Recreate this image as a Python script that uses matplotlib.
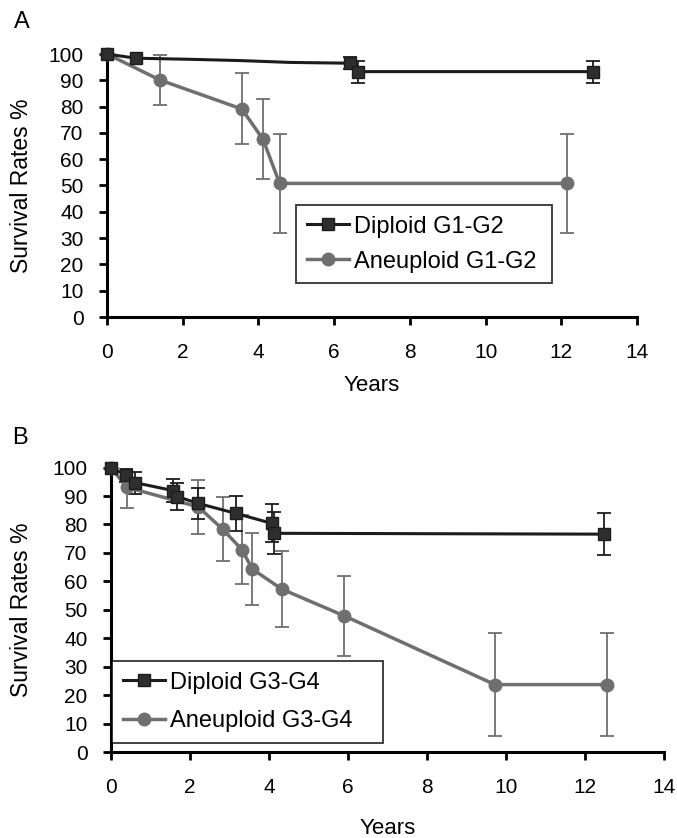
import numpy as np
import matplotlib
matplotlib.use('Agg')
import matplotlib.pyplot as plt
from matplotlib.lines import Line2D

plt.rcParams['font.family'] = ['Liberation Sans', 'DejaVu Sans']

# ---- panel A data ----
dipA_x = [0, 0.76, 2.15, 3.52, 4.84, 6.41, 6.63, 12.84]
dipA_y = [100, 98.4, 98.0, 97.5, 96.8, 96.5, 93.3, 93.3]
dipA_mark = [0, 1, 5, 6, 7]
dipA_err = [0, 0, 0, 0, 0, 2.3, 4.2, 4.2]

aneA_x = [0, 1.40, 3.56, 4.12, 4.56, 12.14]
aneA_y = [100, 90.1, 79.1, 67.6, 50.8, 50.8]
aneA_err = [0, 9.4, 13.5, 15.2, 18.9, 18.9]

# ---- panel B data ----
dipB_x = [0, 0.38, 0.61, 1.58, 1.68, 2.21, 3.16, 4.07, 4.13, 12.48]
dipB_y = [100, 97.4, 94.7, 91.9, 89.8, 87.4, 83.9, 80.4, 76.9, 76.6]
dipB_err = [0, 2.5, 3.9, 4.1, 4.7, 5.4, 6.2, 6.7, 7.4, 7.4]

aneB_x = [0, 0.40, 2.21, 2.83, 3.31, 3.58, 4.32, 5.90, 9.72, 12.56]
aneB_y = [100, 93.1, 86.2, 78.3, 71.2, 64.3, 57.3, 47.9, 23.7, 23.7]
aneB_err = [0, 7.3, 9.4, 11.2, 12.3, 12.6, 13.2, 14.0, 18.2, 18.2]

dark = '#1c1c1c'
dark_m = '#2e2e2e'
grey = '#6f6f6f'

W, H = 677, 838
fig = plt.figure(figsize=(W / 100, H / 100), dpi=100)


def errbars(ax, x, y, e, color):
    x = np.array(x); y = np.array(y); e = np.array(e)
    m = e > 0
    ax.errorbar(x[m], y[m], yerr=e[m], fmt='none', ecolor=color,
                elinewidth=1.3, capsize=5, capthick=1.3, zorder=2)


def style(ax, xlab_y):
    ax.set_xlim(0, 14)
    ax.set_ylim(0, 100)
    ax.set_xticks(range(0, 15, 2))
    ax.set_yticks(range(0, 101, 10))
    for s in ['top', 'right']:
        ax.spines[s].set_visible(False)
    for s in ['left', 'bottom']:
        ax.spines[s].set_linewidth(2.2)
        ax.spines[s].set_color('black')
    ax.tick_params(axis='both', direction='out', width=2, length=6,
                   labelsize=15, colors='black')
    ax.tick_params(axis='y', pad=11)
    ax.tick_params(axis='x', pad=13)
    ax.set_ylabel('Survival Rates %', fontsize=16.5, va='center')
    ax.yaxis.set_label_coords(-0.162, 0.5)
    ax.set_xlabel('Years', fontsize=16, va='center')
    ax.xaxis.set_label_coords(0.5, xlab_y)


def legend(ax, labels, box, spacing):
    x0, y0, x1, y1 = box
    h = [Line2D([], [], color=dark, lw=2.2, marker='s', ms=9, mfc=dark_m, mec=dark),
         Line2D([], [], color=grey, lw=2.5, marker='o', ms=9, mfc=grey, mec=grey)]
    leg = ax.legend(h, labels, loc='upper left',
                    bbox_to_anchor=(x0 / W, 1 - y1 / H, (x1 - x0) / W, (y1 - y0) / H),
                    bbox_transform=fig.transFigure, mode='expand', borderaxespad=0,
                    fontsize=17, frameon=True, fancybox=False, edgecolor='black',
                    handlelength=1.8, handletextpad=0.2, borderpad=0.45,
                    labelspacing=spacing)
    leg.get_frame().set_linewidth(1.3)
    return leg


# ---- panel A ----
axA = fig.add_axes([107 / W, 1 - 317 / H, (637 - 107) / W, (317 - 54) / H])
errbars(axA, aneA_x, aneA_y, aneA_err, grey)
errbars(axA, dipA_x, dipA_y, dipA_err, dark)
axA.plot(aneA_x, aneA_y, color=grey, lw=2.5, marker='o', ms=9,
         mfc=grey, mec=grey, zorder=3, clip_on=False)
axA.plot(dipA_x, dipA_y, color=dark, lw=2.2, marker='s', ms=9,
         markevery=dipA_mark, mfc=dark_m, mec=dark, zorder=4, clip_on=False)
style(axA, -(385 - 317) / (317 - 54))
legend(axA, ['Diploid G1-G2', 'Aneuploid G1-G2'], (296, 205, 552, 293), 0.55)

# ---- panel B ----
axB = fig.add_axes([111 / W, 1 - 752 / H, (664 - 111) / W, (752 - 467.6) / H])
errbars(axB, aneB_x, aneB_y, aneB_err, grey)
errbars(axB, dipB_x, dipB_y, dipB_err, dark)
axB.plot(aneB_x, aneB_y, color=grey, lw=2.5, marker='o', ms=9,
         mfc=grey, mec=grey, zorder=3, clip_on=False)
axB.plot(dipB_x, dipB_y, color=dark, lw=2.2, marker='s', ms=9,
         mfc=dark_m, mec=dark, zorder=4, clip_on=False)
style(axB, -(828 - 752) / (752 - 467.6))
legend(axB, ['Diploid G3-G4', 'Aneuploid G3-G4'], (112, 661, 383, 751), 0.7)

fig.text(22 / W, 1 - 22 / H, 'A', fontsize=17, va='center', ha='center')
fig.text(20 / W, 1 - 438 / H, 'B', fontsize=17, va='center', ha='center')

fig.savefig('out.png', dpi=100, facecolor='white')
